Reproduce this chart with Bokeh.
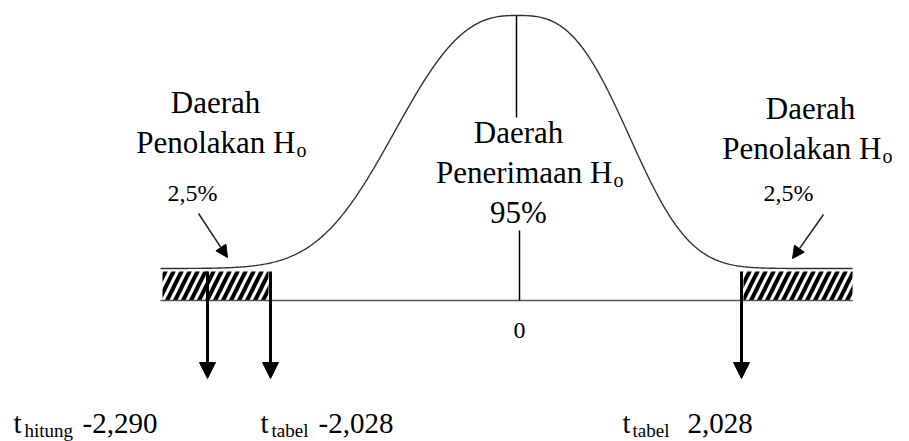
import numpy as np
from bokeh.plotting import figure
from bokeh.models import Range1d, Arrow, NormalHead, ColumnDataSource
from bokeh.core.properties import value
from bokeh.embed import file_html
from bokeh.resources import INLINE

# ---------------- chart content ----------------
t_stat_name = ["hitung", "tabel", "tabel"]
t_stat_text = ["-2,290", "-2,028", "2,028"]
region_title = ["Daerah", "Daerah", "Daerah"]
region_name = ["Penolakan H", "Penerimaan H", "Penolakan H"]
region_sub = ["o", "o", "o"]
region_pct = ["2,5%", "95%", "2,5%"]
center_label = ["0"]

# ---------------- schematic layout (diagram units = picture pixels) ----------------
curve_x0, curve_x1 = 160, 852
peak_x, peak_y, tail_y = 516, 15, 268
shape_left = (147, 2.6)
shape_right = (131, 2.9)

tail_left = [162, 743]
tail_right = [268, 852]
tail_top, tail_bottom = 271, 300

base_x = [160, 852]

center_line_x = [[516, 516], [519, 519]]
center_line_y = [[15, 117], [230, 300]]

arrow_x = [207, 270, 741]
arrow_y0, arrow_y1 = 271, 378

diag_x0 = [198, 823]
diag_y0 = [213, 214]
diag_x1 = [227, 792]
diag_y1 = [257, 258]

title_x = [215, 518, 810]
title_y = [112, 142, 118]
name_end_x = [295, 612, 881]
name_y = [152, 182, 158]
pct_x = [192, 518, 788]
pct_y = [200, 222, 200]
pct_size = [24, 31, 24]

t_x = [13, 260, 622]
sub_x = [24, 271, 632]
num_x = [82, 318, 687]
bottom_y, bottom_sub_y = 432, 436

zero_x, zero_y = 519, 338

FONT = value("Liberation Serif")
BIG, SUB, PCT0, ZERO, BOT, BOTSUB = 31, 20, 24, 24, 29, 19


def base(ys, size):
    # place the glyph so that its alphabetic baseline lands on ys
    if np.isscalar(ys):
        return ys - 0.32 * size
    return [y - 0.32 * size for y in ys]


W, H = 909, 441
p = figure(width=W, height=H, x_range=Range1d(0, W), y_range=Range1d(H, 0),
           x_axis_type=None, y_axis_type=None, toolbar_location=None,
           output_backend="svg", min_border=0, outline_line_color=None,
           background_fill_color="white", border_fill_color="white")

# hatched rejection tails
p.quad(left=tail_left, right=tail_right, top=tail_top, bottom=tail_bottom,
       fill_color="white", line_color=None, hatch_pattern="/",
       hatch_color="black", hatch_weight=4, hatch_scale=16)

# baseline
p.line(base_x, [tail_bottom, tail_bottom], line_color="#555555", line_width=1.6)

# bell curve
xs = np.linspace(curve_x0, curve_x1, 600)
dx = xs - peak_x
a = np.where(dx < 0, shape_left[0], shape_right[0])
k = np.where(dx < 0, shape_left[1], shape_right[1])
ys = tail_y - (tail_y - peak_y) * np.exp(-np.abs(dx / a) ** k)
p.line(xs, ys, line_color="#333333", line_width=1.4)

# centre vertical line (broken by the label)
p.multi_line(center_line_x, center_line_y, line_color="black", line_width=1.5)

# vertical arrows for the t values
src_v = ColumnDataSource(dict(x0=arrow_x, y0=[arrow_y0] * 3, x1=arrow_x, y1=[arrow_y1] * 3))
p.add_layout(Arrow(end=NormalHead(size=16, fill_color="black", line_color="black"),
                   x_start="x0", y_start="y0", x_end="x1", y_end="y1",
                   line_width=3, line_color="black", source=src_v))

# diagonal pointer arrows
src_d = ColumnDataSource(dict(x0=diag_x0, y0=diag_y0, x1=diag_x1, y1=diag_y1))
p.add_layout(Arrow(end=NormalHead(size=12, fill_color="black", line_color="black"),
                   x_start="x0", y_start="y0", x_end="x1", y_end="y1",
                   line_width=1.5, line_color="#222222", source=src_d))

# region labels
p.text(x=title_x, y=base(title_y, BIG), text=region_title, text_font=FONT,
       text_font_size=f"{BIG}px", text_align="center", text_baseline="alphabetic",
       text_color="black")
p.text(x=name_end_x, y=base(name_y, BIG), text=region_name, text_font=FONT,
       text_font_size=f"{BIG}px", text_align="right", text_baseline="alphabetic",
       text_color="black")
p.text(x=[v + 1 for v in name_end_x], y=base([v + 4 for v in name_y], SUB), text=region_sub,
       text_font=FONT, text_font_size=f"{SUB}px", text_align="left",
       text_baseline="alphabetic", text_color="black")
src_p = ColumnDataSource(dict(x=pct_x, y=[y - 0.32 * s for y, s in zip(pct_y, pct_size)],
                              t=region_pct, s=[f"{s}px" for s in pct_size]))
p.text(x="x", y="y", text="t", text_font_size="s", source=src_p, text_font=FONT,
       text_align="center", text_baseline="alphabetic", text_color="black")

# zero
p.text(x=[zero_x], y=[base(zero_y, ZERO)], text=center_label, text_font=FONT,
       text_font_size=f"{ZERO}px", text_align="center", text_baseline="alphabetic",
       text_color="black")

# bottom t labels
p.text(x=t_x, y=[base(bottom_y, BOT)] * 3, text=["t"] * 3, text_font=FONT,
       text_font_size=f"{BOT}px", text_align="left", text_baseline="alphabetic",
       text_color="black")
p.text(x=sub_x, y=[base(bottom_sub_y, BOTSUB)] * 3, text=t_stat_name, text_font=FONT,
       text_font_size=f"{BOTSUB}px", text_align="left", text_baseline="alphabetic",
       text_color="black")
p.text(x=num_x, y=[base(bottom_y, BOT)] * 3, text=t_stat_text, text_font=FONT,
       text_font_size=f"{BOT}px", text_align="left", text_baseline="alphabetic",
       text_color="black")

open("out.html", "w").write(file_html(p, INLINE))
